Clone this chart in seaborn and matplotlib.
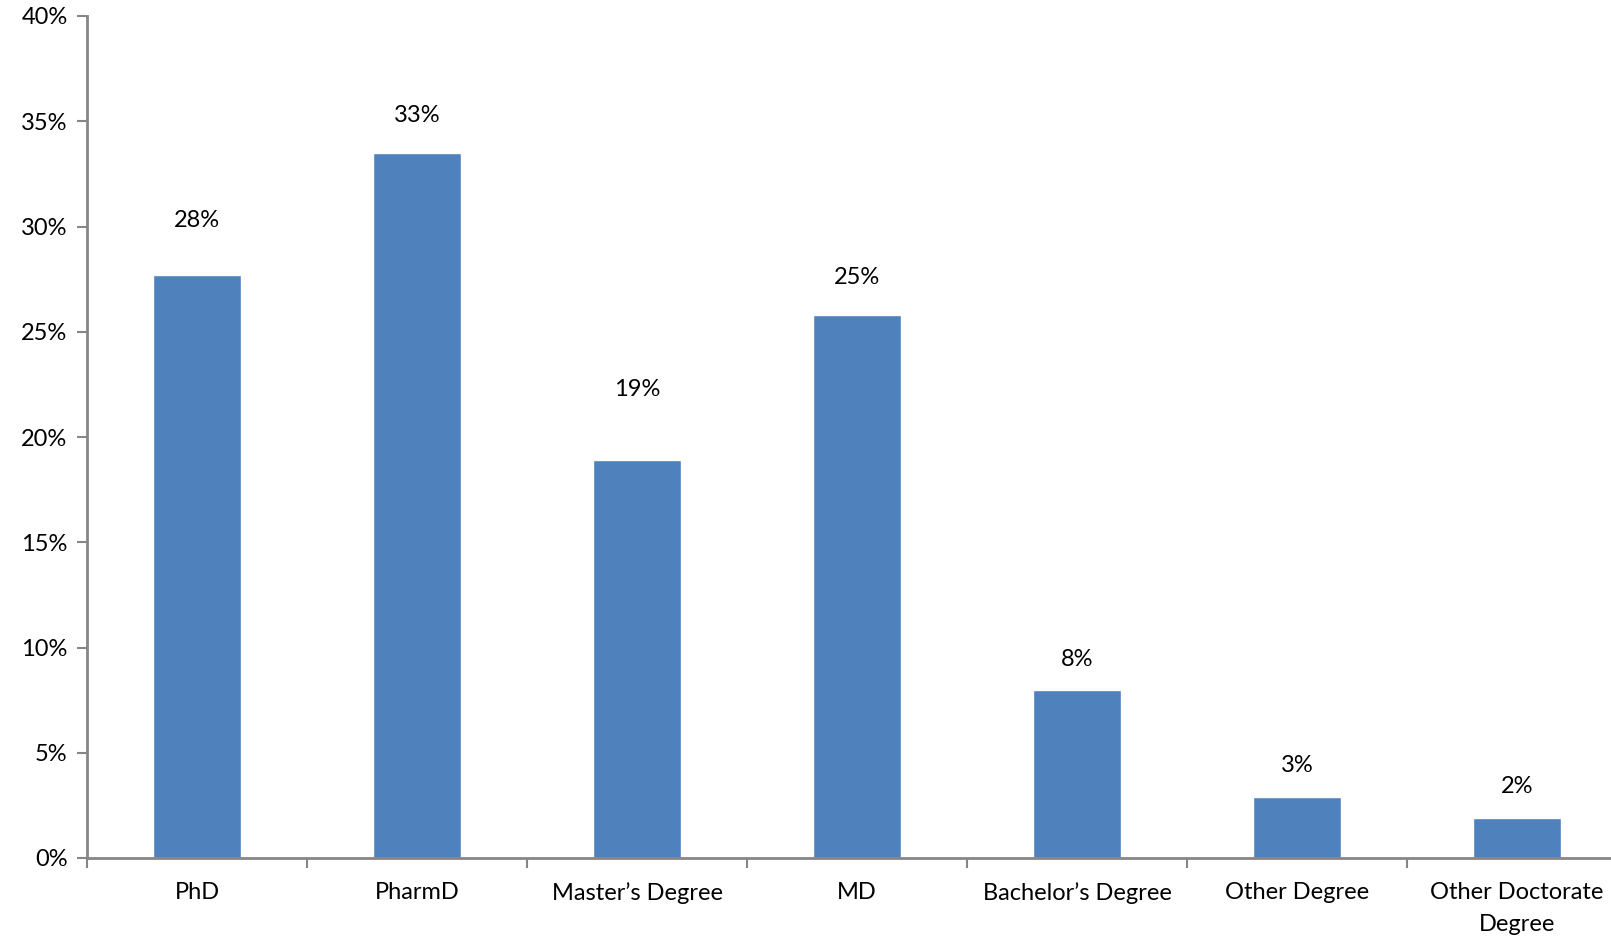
import matplotlib
matplotlib.use("Agg")
import matplotlib.pyplot as plt
import pandas as pd
import seaborn as sns
from matplotlib.ticker import FuncFormatter, FixedLocator

# Dane
degrees = ["PhD", "PharmD", "Master\u2019s Degree", "MD", "Bachelor\u2019s Degree",
           "Other Degree", "Other Doctorate\nDegree"]
shares = [27.7, 33.5, 18.9, 25.8, 8.0, 2.9, 1.9]
share_labels = ["28%", "33%", "19%", "25%", "8%", "3%", "2%"]
y_ticks = [0, 5, 10, 15, 20, 25, 30, 35, 40]

df = pd.DataFrame({"degree": degrees, "share": shares})

sns.set_style("white")
plt.rcParams["font.family"] = ["Lato", "DejaVu Sans"]

bar_color = "#4F81BD"
axis_color = "#868686"
fs = 17

fig = plt.figure(figsize=(16.11, 9.39), dpi=100)
ax = fig.add_axes([87 / 1611, 81 / 939, 1540 / 1611, 842 / 939])

sns.barplot(data=df, x="degree", y="share", color=bar_color, width=0.4,
            saturation=1, ax=ax)

# Etykiety nad słupkami (odstęp w punktach, jak w oryginale)
label_gap = [39, 27, 51, 27, 21.5, 23, 23]
for i, (val, txt) in enumerate(zip(shares, share_labels)):
    ax.annotate(txt, xy=(i, val), xytext=(0, label_gap[i]), textcoords="offset points",
                ha="center", va="center", fontsize=fs, color="black")

ax.set_xlim(-0.5, 6.5)
ax.set_ylim(0, 40)
ax.set_yticks(y_ticks)
ax.yaxis.set_major_formatter(FuncFormatter(lambda v, p: f"{v:.0f}%"))

# Znaczniki osi X na granicach kategorii, podpisy na środku
ax.xaxis.set_major_locator(FixedLocator([i - 0.5 for i in range(len(degrees) + 1)]))
ax.xaxis.set_minor_locator(FixedLocator(list(range(len(degrees)))))
ax.set_xticklabels([], minor=False)
ax.set_xticklabels(degrees, minor=True, linespacing=1.6)
ax.tick_params(axis="x", which="major", direction="out", length=7, width=1.5,
               color=axis_color, bottom=True)
ax.tick_params(axis="x", which="minor", length=0, pad=17.5, labelsize=fs,
               labelcolor="black")
ax.tick_params(axis="y", direction="out", length=7, width=1.5, color=axis_color,
               left=True, labelsize=fs, labelcolor="black", pad=7)

for s in ["top", "right"]:
    ax.spines[s].set_visible(False)
for s in ["left", "bottom"]:
    ax.spines[s].set_color(axis_color)
    ax.spines[s].set_linewidth(2)

ax.set_xlabel("")
ax.set_ylabel("")
ax.grid(False)

fig.savefig("out.png", dpi=100)
